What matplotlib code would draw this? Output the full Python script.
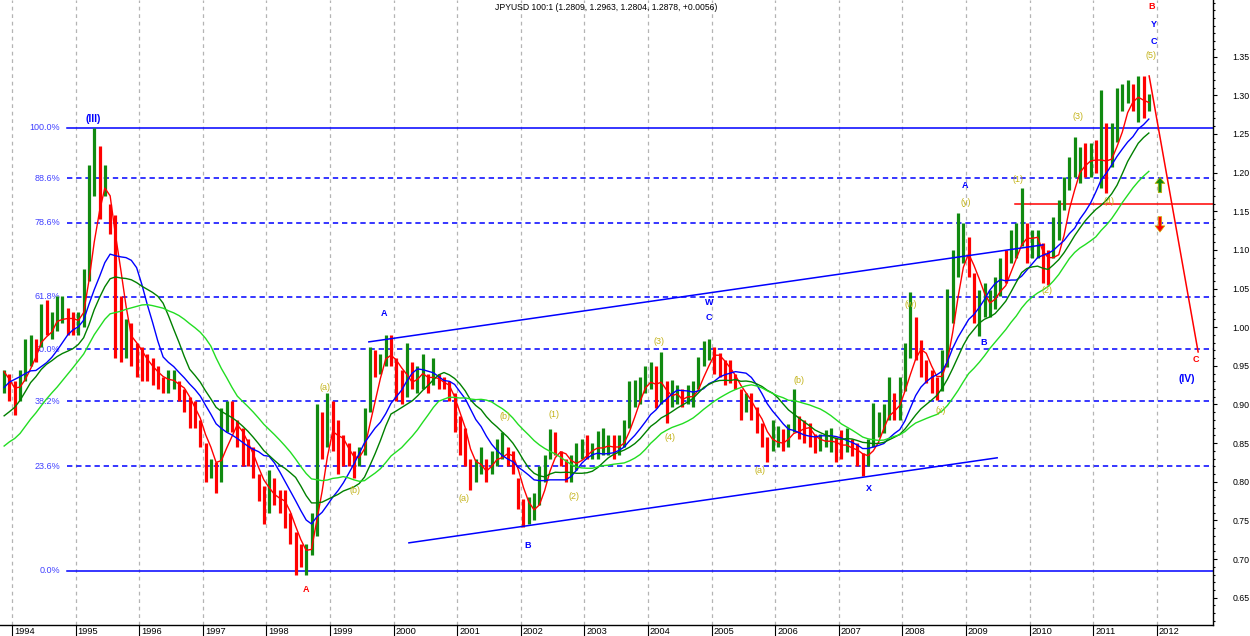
import numpy as np
import pandas as pd
import matplotlib
matplotlib.use("Agg")
import matplotlib.pyplot as plt
import matplotlib.transforms as mtransforms
from matplotlib.ticker import MultipleLocator

plt.rcParams['font.family'] = ['Liberation Sans', 'DejaVu Sans']

title = "JPYUSD 100:1 (1.2809, 1.2963, 1.2804, 1.2878, +0.0056)"

# monthly bars, first one is Nov 1993
start = 1993 + 10 / 12.0

bar_high = [
    0.945, 0.94,
    0.93, 0.945, 0.985, 0.99, 0.985, 1.03, 1.035, 1.02, 1.04, 1.04, 1.025, 1.02,  # 1994
    1.02, 1.075, 1.21, 1.258, 1.235, 1.21, 1.16, 1.145, 1.04, 1.01, 1.005, 0.98,  # 1995
    0.975, 0.965, 0.96, 0.95, 0.935, 0.945, 0.945, 0.93, 0.92, 0.91, 0.905, 0.88,  # 1996
    0.85, 0.83, 0.825, 0.895, 0.905, 0.905, 0.88, 0.87, 0.855, 0.845, 0.81, 0.795,  # 1997
    0.815, 0.805, 0.79, 0.79, 0.76, 0.735, 0.72, 0.72, 0.76, 0.90, 0.89, 0.915,  # 1998
    0.905, 0.88, 0.86, 0.85, 0.84, 0.845, 0.895, 0.975, 0.97, 0.965, 0.99, 0.99,  # 1999
    0.96, 0.945, 0.98, 0.955, 0.95, 0.965, 0.94, 0.96, 0.94, 0.935, 0.93, 0.915,  # 2000
    0.885, 0.87, 0.83, 0.83, 0.845, 0.83, 0.84, 0.855, 0.865, 0.845, 0.84, 0.805,  # 2001
    0.778, 0.78, 0.785, 0.82, 0.835, 0.868, 0.865, 0.84, 0.83, 0.835, 0.85, 0.855,  # 2002
    0.86, 0.85, 0.866, 0.87, 0.86, 0.86, 0.86, 0.88, 0.93, 0.932, 0.935, 0.95,  # 2003
    0.955, 0.95, 0.968, 0.93, 0.932, 0.925, 0.92, 0.925, 0.93, 0.962, 0.982, 0.985,  # 2004
    0.975, 0.966, 0.958, 0.958, 0.94, 0.92, 0.915, 0.915, 0.897, 0.876, 0.858, 0.88,  # 2005
    0.872, 0.868, 0.875, 0.92, 0.885, 0.88, 0.876, 0.862, 0.862, 0.867, 0.87, 0.858,  # 2006
    0.867, 0.87, 0.855, 0.85, 0.837, 0.855, 0.902, 0.89, 0.90, 0.935, 0.915, 0.936,  # 2007
    0.98, 1.046, 1.013, 0.984, 0.958, 0.945, 0.936, 0.97, 1.05, 1.10, 1.148, 1.135,  # 2008
    1.117, 1.07, 1.048, 1.057, 1.048, 1.065, 1.09, 1.10, 1.126, 1.135, 1.18, 1.135,  # 2009
    1.126, 1.126, 1.109, 1.10, 1.142, 1.165, 1.194, 1.22, 1.246, 1.233, 1.238, 1.238,  # 2010
    1.242, 1.307, 1.264, 1.264, 1.31, 1.315, 1.32, 1.315, 1.325, 1.325, 1.302,  # 2011
]
bar_low = [
    0.915, 0.905,
    0.887, 0.905, 0.93, 0.95, 0.955, 0.975, 0.99, 0.985, 0.995, 1.005, 0.99, 0.99,
    0.99, 1.0, 1.06, 1.17, 1.14, 1.17, 1.12, 0.96, 0.955, 0.96, 0.95, 0.935,
    0.93, 0.93, 0.925, 0.92, 0.915, 0.915, 0.92, 0.905, 0.89, 0.87, 0.87, 0.845,
    0.80, 0.805, 0.785, 0.80, 0.865, 0.865, 0.845, 0.82, 0.82, 0.805, 0.775, 0.745,
    0.76, 0.77, 0.76, 0.74, 0.72, 0.68, 0.69, 0.68, 0.705, 0.73, 0.83, 0.845,
    0.84, 0.81, 0.82, 0.82, 0.805, 0.82, 0.835, 0.89, 0.935, 0.94, 0.95, 0.95,
    0.905, 0.90, 0.91, 0.92, 0.915, 0.92, 0.915, 0.925, 0.92, 0.92, 0.905, 0.865,
    0.835, 0.82, 0.79, 0.80, 0.81, 0.80, 0.81, 0.82, 0.83, 0.82, 0.81, 0.765,
    0.742, 0.745, 0.75, 0.77, 0.80, 0.83, 0.835, 0.82, 0.80, 0.80, 0.815, 0.83,
    0.83, 0.83, 0.83, 0.835, 0.835, 0.83, 0.835, 0.845, 0.87, 0.897, 0.90, 0.915,
    0.92, 0.895, 0.90, 0.876, 0.897, 0.90, 0.897, 0.90, 0.897, 0.92, 0.95, 0.958,
    0.94, 0.935, 0.925, 0.928, 0.92, 0.88, 0.89, 0.88, 0.863, 0.845, 0.826, 0.84,
    0.845, 0.84, 0.845, 0.865, 0.855, 0.85, 0.845, 0.837, 0.84, 0.845, 0.838, 0.825,
    0.83, 0.838, 0.833, 0.82, 0.807, 0.82, 0.845, 0.858, 0.863, 0.88, 0.88, 0.88,
    0.918, 0.96, 0.958, 0.936, 0.928, 0.915, 0.906, 0.918, 0.948, 1.005, 1.065, 1.083,
    1.065, 1.005, 0.988, 1.013, 1.013, 1.023, 1.04, 1.057, 1.083, 1.09, 1.105, 1.083,
    1.09, 1.09, 1.057, 1.054, 1.09, 1.113, 1.152, 1.178, 1.194, 1.186, 1.194, 1.194,
    1.20, 1.18, 1.173, 1.207, 1.24, 1.28, 1.29, 1.28, 1.265, 1.27, 1.28,
]
bar_close = [
    0.93, 0.92,
    0.905, 0.935, 0.97, 0.975, 0.965, 1.01, 1.00, 1.00, 1.02, 1.02, 1.005, 1.00,
    1.01, 1.06, 1.17, 1.20, 1.17, 1.18, 1.13, 1.00, 0.99, 0.99, 0.975, 0.965,
    0.95, 0.945, 0.94, 0.935, 0.925, 0.93, 0.935, 0.915, 0.905, 0.885, 0.88, 0.86,
    0.82, 0.82, 0.80, 0.87, 0.885, 0.88, 0.86, 0.835, 0.83, 0.82, 0.79, 0.77,
    0.79, 0.785, 0.77, 0.755, 0.735, 0.71, 0.70, 0.70, 0.74, 0.86, 0.85, 0.88,
    0.87, 0.84, 0.835, 0.83, 0.825, 0.835, 0.88, 0.955, 0.945, 0.955, 0.98, 0.975,
    0.92, 0.915, 0.945, 0.935, 0.935, 0.945, 0.925, 0.935, 0.93, 0.925, 0.91, 0.875,
    0.85, 0.845, 0.80, 0.81, 0.835, 0.81, 0.825, 0.845, 0.845, 0.83, 0.815, 0.775,
    0.75, 0.755, 0.775, 0.80, 0.825, 0.855, 0.845, 0.83, 0.815, 0.82, 0.83, 0.845,
    0.84, 0.845, 0.845, 0.845, 0.85, 0.84, 0.845, 0.865, 0.91, 0.915, 0.925, 0.935,
    0.94, 0.905, 0.935, 0.895, 0.91, 0.915, 0.905, 0.91, 0.91, 0.95, 0.97, 0.97,
    0.965, 0.95, 0.94, 0.935, 0.925, 0.90, 0.90, 0.895, 0.875, 0.855, 0.835, 0.855,
    0.86, 0.85, 0.855, 0.885, 0.87, 0.865, 0.86, 0.845, 0.85, 0.855, 0.86, 0.84,
    0.835, 0.855, 0.845, 0.83, 0.815, 0.845, 0.87, 0.875, 0.885, 0.91, 0.895, 0.905,
    0.96, 0.995, 0.975, 0.955, 0.94, 0.93, 0.92, 0.955, 1.02, 1.08, 1.10, 1.11,
    1.09, 1.02, 1.03, 1.035, 1.04, 1.04, 1.07, 1.065, 1.11, 1.11, 1.14, 1.10,
    1.11, 1.115, 1.07, 1.065, 1.11, 1.13, 1.17, 1.20, 1.21, 1.22, 1.205, 1.225,
    1.215, 1.22, 1.20, 1.235, 1.28, 1.295, 1.30, 1.29, 1.305, 1.28, 1.2878,
]
# Dec 1991 - Oct 1993, left of the chart, only feeds the moving averages
warmup_close = [0.79,
                0.80, 0.78, 0.75, 0.75, 0.77, 0.79, 0.79, 0.81, 0.84, 0.82, 0.80, 0.80,
                0.80, 0.85, 0.87, 0.90, 0.93, 0.94, 0.96, 0.96, 0.95, 0.93]

ma_windows = [4, 10, 15, 24]
ma_colors = ['#ff0000', '#0000ff', '#008000', '#22dd22']

fib_low = 0.685
fib_high = 1.258
fib_ratios = [1.0, 0.886, 0.786, 0.618, 0.5, 0.382, 0.236, 0.0]
fib_labels = ["100.0%", "88.6%", "78.6%", "61.8%", "50.0%", "38.2%", "23.6%", "0.0%"]

upper_channel_t = [1999.61, 2010.21]
upper_channel_v = [0.981, 1.1065]
lower_channel_t = [2000.24, 2009.49]
lower_channel_v = [0.721, 0.831]
target_t = [2011.88, 2012.65]
target_v = [1.325, 0.968]
pivot_level = 1.159
pivot_start = 2009.77

BLUE = '#0000ff'
RED = '#ff0000'
WAVE = '#c4b41c'
wave_labels = [
    ("(III)", 1995.27, 1.269, BLUE, 'big'),
    ("A", 1998.62, 0.6605, RED, 'bold'),
    ("(a)", 1998.92, 0.922, WAVE, 'normal'),
    ("(b)", 1999.39, 0.7885, WAVE, 'normal'),
    ("A", 1999.85, 1.0173, BLUE, 'bold'),
    ("(a)", 2001.11, 0.778, WAVE, 'normal'),
    ("(b)", 2001.75, 0.884, WAVE, 'normal'),
    ("(1)", 2002.52, 0.887, WAVE, 'normal'),
    ("(2)", 2002.84, 0.781, WAVE, 'normal'),
    ("B", 2002.10, 0.7173, BLUE, 'bold'),
    ("(3)", 2004.17, 0.981, WAVE, 'normal'),
    ("(4)", 2004.35, 0.857, WAVE, 'normal'),
    ("W", 2004.96, 1.0315, BLUE, 'bold'),
    ("C", 2004.96, 1.012, BLUE, 'bold'),
    ("(a)", 2005.76, 0.814, WAVE, 'normal'),
    ("(b)", 2006.37, 0.931, WAVE, 'normal'),
    ("X", 2007.47, 0.791, BLUE, 'bold'),
    ("(w)", 2008.13, 1.029, WAVE, 'normal'),
    ("(x)", 2008.61, 0.892, WAVE, 'normal'),
    ("(y)", 2009.0, 1.161, WAVE, 'normal'),
    ("A", 2008.99, 1.183, BLUE, 'bold'),
    ("B", 2009.27, 0.980, BLUE, 'bold'),
    ("(1)", 2009.82, 1.191, WAVE, 'normal'),
    ("(2)", 2010.27, 1.047, WAVE, 'normal'),
    ("(3)", 2010.76, 1.273, WAVE, 'normal'),
    ("(4)", 2011.25, 1.162, WAVE, 'normal'),
    ("B", 2011.92, 1.4155, RED, 'bold'),
    ("Y", 2011.95, 1.392, BLUE, 'bold'),
    ("C", 2011.95, 1.370, BLUE, 'bold'),
    ("(5)", 2011.91, 1.352, WAVE, 'normal'),
    ("C", 2012.62, 0.958, RED, 'bold'),
    ("(IV)", 2012.47, 0.933, BLUE, 'big'),
]

years = list(range(1994, 2013))
x_min, x_max = 1993.81, 2012.884
y_min, y_max = 0.6147, 1.4233

fig = plt.figure(figsize=(12.5, 6.36), dpi=100)
ax = fig.add_axes([0, 11 / 636, 1213 / 1250, 625 / 636])
ax.set_xlim(x_min, x_max)
ax.set_ylim(y_min, y_max)

for yr in years:
    ax.axvline(yr, color='#b4b4b4', lw=0.9, ls=(0, (3, 3)), zorder=0)

# fibonacci levels
fib_start = 1994.865
for r, lab in zip(fib_ratios, fib_labels):
    lvl = fib_low + r * (fib_high - fib_low)
    if r in (0.0, 1.0):
        ax.plot([fib_start, x_max], [lvl, lvl], color=BLUE, lw=1.1, zorder=1)
    else:
        ax.plot([fib_start, x_max], [lvl, lvl], color=BLUE, lw=1.1, ls=(0, (3.5, 2.5)), zorder=1)
    ax.text(1994.755, lvl, lab, ha='right', va='center', fontsize=6.5, color='#4040ff', zorder=1)

ax.plot([pivot_start, x_max], [pivot_level, pivot_level], color=RED, lw=1.1, zorder=1)

# price bars
t = start + (np.arange(len(bar_close)) + 0.5) / 12.0
prev = [warmup_close[-1]] + bar_close[:-1]
cols = ['#108a10' if c >= p else '#ff0000' for c, p in zip(bar_close, prev)]
ax.vlines(t, bar_low, bar_high, colors=cols, lw=2.3, zorder=2)

# moving averages
all_close = pd.Series(warmup_close + bar_close)
n = len(bar_close)
for w, c in zip(ma_windows, ma_colors):
    ma = all_close.rolling(w).mean().values[-n:]
    ax.plot(t, ma, color=c, lw=1.0, zorder=3)

ax.plot(upper_channel_t, upper_channel_v, color=BLUE, lw=1.1, zorder=4)
ax.plot(lower_channel_t, lower_channel_v, color=BLUE, lw=1.1, zorder=4)
ax.plot(target_t, target_v, color=RED, lw=1.1, zorder=4)

for txt, tx, ty, c, style in wave_labels:
    if style == 'big':
        ax.text(tx, ty, txt, ha='center', va='center', color=c, fontsize=7.5, fontweight='bold', zorder=5)
    elif style == 'bold':
        ax.text(tx, ty, txt, ha='center', va='center', color=c, fontsize=6.5, fontweight='bold', zorder=5)
    else:
        ax.text(tx, ty, txt, ha='center', va='center', color=c, fontsize=6.5, zorder=5)

ax.annotate('', xy=(2012.05, 1.194), xytext=(2012.05, 1.174),
            arrowprops=dict(facecolor='#108a10', edgecolor='#c8b400', width=2.5,
                            headwidth=7, headlength=4.5, lw=0.5))
ax.annotate('', xy=(2012.05, 1.123), xytext=(2012.05, 1.143),
            arrowprops=dict(facecolor='#ff0000', edgecolor='#c8b400', width=2.5,
                            headwidth=7, headlength=4.5, lw=0.5))

# axes styling
for s in ['left', 'top']:
    ax.spines[s].set_visible(False)
ax.spines['right'].set_linewidth(1.0)
ax.spines['bottom'].set_linewidth(1.0)

ax.yaxis.tick_right()
ax.set_yticks(np.arange(0.65, 1.351, 0.05))
ax.set_yticklabels(['%.2f' % v for v in np.arange(0.65, 1.351, 0.05)])
ax.yaxis.set_minor_locator(MultipleLocator(0.01))
ax.tick_params(axis='y', which='major', direction='out', length=3, width=0.8, labelsize=6.3, pad=11)
ax.tick_params(axis='y', which='minor', direction='out', length=1.5, width=0.8)

ax.set_xticks(years)
ax.tick_params(axis='x', direction='out', length=8, width=0.8, labelbottom=False)
trans = mtransforms.blended_transform_factory(ax.transData, ax.transAxes)
for yr in years:
    ax.text(yr + 2 / 63.6, -0.004, str(yr), transform=trans, ha='left', va='top', fontsize=6.7)

fig.text(606 / 1250, 1 - 7 / 636, title, ha='center', va='center', fontsize=6.2)

fig.savefig('out.png', dpi=100)
